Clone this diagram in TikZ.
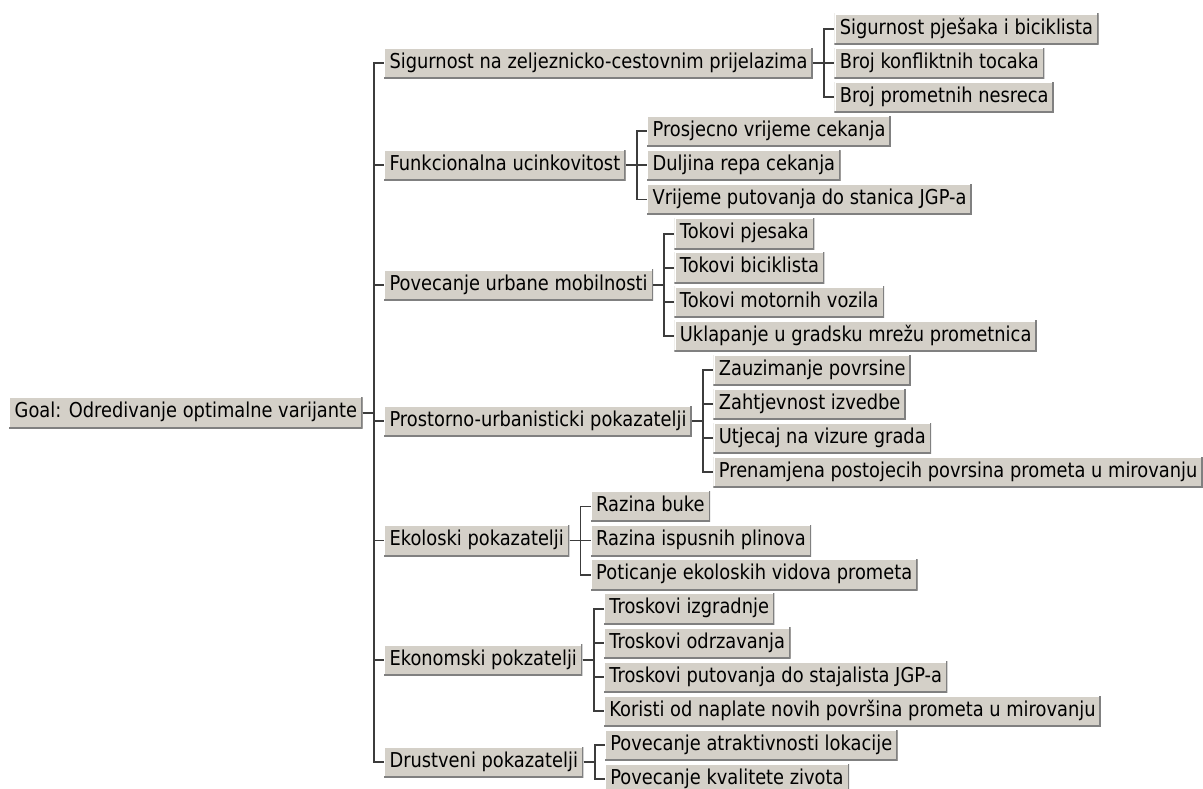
\documentclass[tikz,border=0pt]{standalone}
\usepackage{fontspec}
\setmainfont{DejaVu Sans}[FakeStretch=0.87]
\definecolor{btnface}{HTML}{D4D0C8}
\definecolor{btnshadow}{HTML}{808080}
\definecolor{wire}{HTML}{3C3C3C}
\tikzset{
  item/.style={anchor=west, fill=btnface, inner xsep=5.5pt, inner ysep=5.25pt,
    text height=15.5pt, text depth=5pt, font=\fontsize{20.5}{22}\selectfont,
    path picture={
      \draw[white,line width=2.5pt] (path picture bounding box.south west) -- (path picture bounding box.north west) -- (path picture bounding box.north east);
      \draw[btnshadow,line width=3pt] (path picture bounding box.north east) -- (path picture bounding box.south east) -- (path picture bounding box.south west);
    }},
  link/.style={wire, line width=1.8pt},
}

\begin{document}
\begin{tikzpicture}[x=1pt,y=-1pt]
            \useasboundingbox (0,0) rectangle (1203,789);
            % root and criteria
            \node[item] (goal) at (9,412.6) {Goal: Odredivanje optimalne varijante};
            \node[item,xshift=21pt] (sig) at (goal.east |- 0,63.1) {Sigurnost na zeljeznicko-cestovnim prijelazima};
            \node[item,xshift=21pt] (fun) at (goal.east |- 0,165.4) {Funkcionalna ucinkovitost};
            \node[item,xshift=21pt] (pov) at (goal.east |- 0,284.75) {Povecanje urbane mobilnosti};
            \node[item,xshift=21pt] (pro) at (goal.east |- 0,421.15) {Prostorno-urbanisticki pokazatelji};
            \node[item,xshift=21pt] (eko) at (goal.east |- 0,540.5) {Ekoloski pokazatelji};
            \node[item,xshift=21pt] (ekn) at (goal.east |- 0,659.85) {Ekonomski pokzatelji};
            \node[item,xshift=21pt] (dru) at (goal.east |- 0,762.15) {Drustveni pokazatelji};
            % sub-criteria
            \node[item,xshift=21pt] (sig1) at (sig.east |- 0,29.0) {Sigurnost pješaka i biciklista};
            \node[item,xshift=21pt] (sig2) at (sig.east |- 0,63.1) {Broj konfliktnih tocaka};
            \node[item,xshift=21pt] (sig3) at (sig.east |- 0,97.2) {Broj prometnih nesreca};
            \node[item,xshift=21pt] (fun1) at (fun.east |- 0,131.3) {Prosjecno vrijeme cekanja};
            \node[item,xshift=21pt] (fun2) at (fun.east |- 0,165.4) {Duljina repa cekanja};
            \node[item,xshift=21pt] (fun3) at (fun.east |- 0,199.5) {Vrijeme putovanja do stanica JGP-a};
            \node[item,xshift=21pt] (pov1) at (pov.east |- 0,233.6) {Tokovi pjesaka};
            \node[item,xshift=21pt] (pov2) at (pov.east |- 0,267.7) {Tokovi biciklista};
            \node[item,xshift=21pt] (pov3) at (pov.east |- 0,301.8) {Tokovi motornih vozila};
            \node[item,xshift=21pt] (pov4) at (pov.east |- 0,335.9) {Uklapanje u gradsku mrežu prometnica};
            \node[item,xshift=21pt] (pro1) at (pro.east |- 0,370.0) {Zauzimanje povrsine};
            \node[item,xshift=21pt] (pro2) at (pro.east |- 0,404.1) {Zahtjevnost izvedbe};
            \node[item,xshift=21pt] (pro3) at (pro.east |- 0,438.2) {Utjecaj na vizure grada};
            \node[item,xshift=21pt] (pro4) at (pro.east |- 0,472.3) {Prenamjena postojecih povrsina prometa u mirovanju};
            \node[item,xshift=21pt] (eko1) at (eko.east |- 0,506.4) {Razina buke};
            \node[item,xshift=21pt] (eko2) at (eko.east |- 0,540.5) {Razina ispusnih plinova};
            \node[item,xshift=21pt] (eko3) at (eko.east |- 0,574.6) {Poticanje ekoloskih vidova prometa};
            \node[item,xshift=21pt] (ekn1) at (ekn.east |- 0,608.7) {Troskovi izgradnje};
            \node[item,xshift=21pt] (ekn2) at (ekn.east |- 0,642.8) {Troskovi odrzavanja};
            \node[item,xshift=21pt] (ekn3) at (ekn.east |- 0,676.9) {Troskovi putovanja do stajalista JGP-a};
            \node[item,xshift=21pt] (ekn4) at (ekn.east |- 0,711.0) {Koristi od naplate novih površina prometa u mirovanju};
            \node[item,xshift=21pt] (dru1) at (dru.east |- 0,745.1) {Povecanje atraktivnosti lokacije};
            \node[item,xshift=21pt] (dru2) at (dru.east |- 0,779.2) {Povecanje kvalitete zivota};
            % connectors
            \foreach \c in {sig,fun,pov,pro,eko,ekn,dru}
                \draw[link] (goal.east) -- ++(11,0) |- (\c.west);
            \foreach \c in {sig1,sig2,sig3} \draw[link] (sig.east) -- ++(11,0) |- (\c.west);
            \foreach \c in {fun1,fun2,fun3} \draw[link] (fun.east) -- ++(11,0) |- (\c.west);
            \foreach \c in {pov1,pov2,pov3,pov4} \draw[link] (pov.east) -- ++(11,0) |- (\c.west);
            \foreach \c in {pro1,pro2,pro3,pro4} \draw[link] (pro.east) -- ++(11,0) |- (\c.west);
            \foreach \c in {eko1,eko2,eko3} \draw[link] (eko.east) -- ++(11,0) |- (\c.west);
            \foreach \c in {ekn1,ekn2,ekn3,ekn4} \draw[link] (ekn.east) -- ++(11,0) |- (\c.west);
            \foreach \c in {dru1,dru2} \draw[link] (dru.east) -- ++(11,0) |- (\c.west);
        \end{tikzpicture}
\end{document}
